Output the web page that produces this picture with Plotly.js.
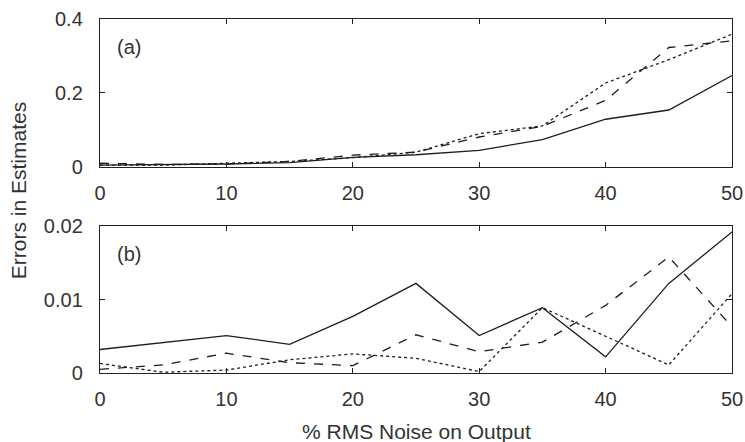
<!DOCTYPE html>
<html>
<head>
<meta charset="utf-8">
<script src="https://cdn.plot.ly/plotly-3.0.1.min.js"></script>
<style>html,body{margin:0;padding:0;background:#fff;}#chart{width:745px;height:442px;}</style>
</head>
<body>
<div id="chart"></div>
<script>
// Noise levels (% RMS noise on output)
const noise = [0, 5, 10, 15, 20, 25, 30, 35, 40, 45, 50];

// Panel (a)
const aSolid  = [0.005, 0.006, 0.008, 0.012, 0.026, 0.033, 0.045, 0.074, 0.129, 0.154, 0.247];
const aDashed = [0.010, 0.007, 0.008, 0.015, 0.032, 0.040, 0.081, 0.110, 0.180, 0.323, 0.341];
const aDotted = [0.005, 0.005, 0.010, 0.015, 0.025, 0.040, 0.090, 0.111, 0.227, 0.290, 0.359];

// Panel (b)
const bSolid  = [0.0032, 0.0042, 0.0051, 0.0039, 0.0077, 0.0122, 0.0051, 0.0089, 0.0022, 0.0122, 0.0192];
const bDashed = [0.0005, 0.0011, 0.0027, 0.0014, 0.0010, 0.0052, 0.0029, 0.0042, 0.0092, 0.0158, 0.0063];
const bDotted = [0.0013, 0.0001, 0.0004, 0.0018, 0.0026, 0.0020, 0.0002, 0.0089, 0.0050, 0.0011, 0.0108];

const xTicks = [0, 10, 20, 30, 40, 50];
const aTicks = [0, 0.2, 0.4];
const bTicks = [0, 0.01, 0.02];

const lineColor = '#1e1e1e';
function tr(y, dash, xa, ya) {
  return {x: noise, y: y, type: 'scatter', mode: 'lines', xaxis: xa, yaxis: ya,
          line: {color: lineColor, width: 1.3, dash: dash}, showlegend: false, hoverinfo: 'skip'};
}

const data = [
  tr(aSolid, 'solid', 'x', 'y'),
  tr(aDashed, 'dash', 'x', 'y'),
  tr(aDotted, 'dot', 'x', 'y'),
  tr(bSolid, 'solid', 'x2', 'y2'),
  tr(bDashed, 'dash', 'x2', 'y2'),
  tr(bDotted, 'dot', 'x2', 'y2')
];

const fam = 'Liberation Sans, Arial, sans-serif';
const tickFont = {family: fam, size: 20, color: '#333'};
const titleFont = {family: fam, size: 21, color: '#333'};
const axCommon = {
  showline: true, linecolor: '#222', linewidth: 1.2, mirror: 'ticks',
  ticks: 'inside', ticklen: 5, tickwidth: 1, tickcolor: '#222',
  showgrid: false, zeroline: false, tickfont: tickFont, fixedrange: true
};

const layout = {
  width: 745, height: 442,
  margin: {l: 100, r: 13, t: 19, b: 69},
  paper_bgcolor: '#fff', plot_bgcolor: '#fff',
  font: tickFont,
  xaxis: Object.assign({}, axCommon, {domain: [0, 1], range: [0, 50], tickvals: xTicks, anchor: 'y', ticklabelstandoff: 8}),
  yaxis: Object.assign({}, axCommon, {domain: [0.582, 1], range: [0, 0.4], tickvals: aTicks, anchor: 'x', ticklabelstandoff: 12}),
  xaxis2: Object.assign({}, axCommon, {domain: [0, 1], range: [0, 50], tickvals: xTicks, anchor: 'y2', ticklabelstandoff: 8}),
  yaxis2: Object.assign({}, axCommon, {domain: [0, 0.415], range: [0, 0.02], tickvals: bTicks, anchor: 'x2', ticklabelstandoff: 12}),
  annotations: [
    {text: '(a)', xref: 'x', yref: 'y', x: 1.2, y: 0.325, showarrow: false, xanchor: 'left', yanchor: 'middle', font: tickFont},
    {text: '(b)', xref: 'x2', yref: 'y2', x: 1.2, y: 0.0162, showarrow: false, xanchor: 'left', yanchor: 'middle', font: tickFont},
    {text: 'Errors in Estimates', xref: 'paper', yref: 'paper', x: -0.129, y: 0.515, textangle: -90, showarrow: false,
     xanchor: 'center', yanchor: 'middle', font: titleFont},
    {text: '% RMS Noise on Output', xref: 'paper', yref: 'paper', x: 0.5, y: -0.164, showarrow: false,
     xanchor: 'center', yanchor: 'middle', font: titleFont}
  ]
};

Plotly.newPlot('chart', data, layout, {staticPlot: true, displayModeBar: false});
</script>
</body>
</html>
